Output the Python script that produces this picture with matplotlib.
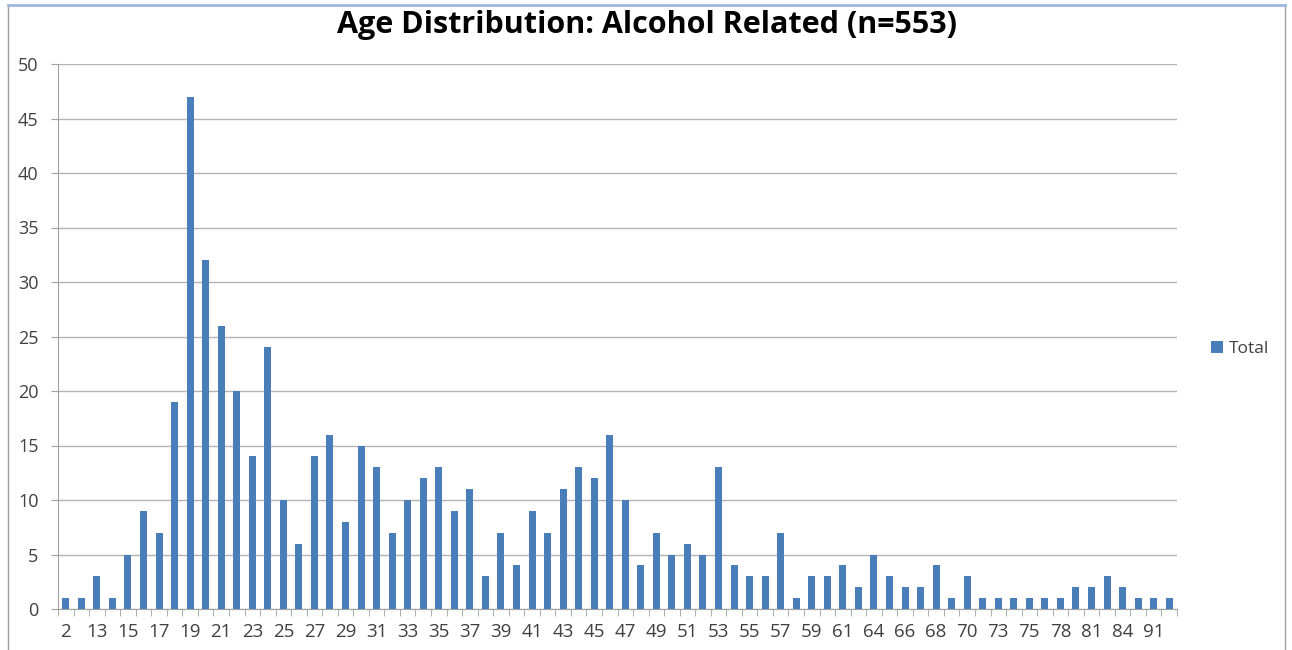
import matplotlib
matplotlib.use("Agg")
from matplotlib import pyplot as plt
from matplotlib.lines import Line2D

plt.rcParams["font.family"] = ["Open Sans", "DejaVu Sans"]

# ages (every second one is labelled on the axis)
ages = [
    "2", "12", "13", "14", "15", "16", "17", "18", "19", "20",
    "21", "22", "23", "24", "25", "26", "27", "28", "29", "30",
    "31", "32", "33", "34", "35", "36", "37", "38", "39", "40",
    "41", "42", "43", "44", "45", "46", "47", "48", "49", "50",
    "51", "52", "53", "54", "55", "56", "57", "58", "59", "60",
    "61", "62", "64", "65", "66", "67", "68", "69", "70", "71",
    "73", "74", "75", "76", "78", "79", "81", "82", "84", "86",
    "91", "92",
]
totals = [
    1, 1, 3, 1, 5, 9, 7, 19, 47, 32,
    26, 20, 14, 24, 10, 6, 14, 16, 8, 15,
    13, 7, 10, 12, 13, 9, 11, 3, 7, 4,
    9, 7, 11, 13, 12, 16, 10, 4, 7, 5,
    6, 5, 13, 4, 3, 3, 7, 1, 3, 3,
    4, 2, 5, 3, 2, 2, 4, 1, 3, 1,
    1, 1, 1, 1, 1, 2, 2, 3, 2, 1,
    1, 1,
]
title = "Age Distribution: Alcohol Related (n=553)"

bar_color = "#4a7ebb"
grid_color = "#b3b3b3"
text_color = "#404040"

fig = plt.figure(figsize=(12.92, 6.5), dpi=100)

# chart frame
fig.add_artist(Line2D([8 / 1292, 8 / 1292], [0, 1 - 5 / 650],
                      transform=fig.transFigure, color="#a0a0a0", lw=1))
fig.add_artist(Line2D([1285 / 1292, 1285 / 1292], [0, 1 - 5 / 650],
                      transform=fig.transFigure, color="#a0a0a0", lw=1))
fig.add_artist(Line2D([8 / 1292, 1285 / 1292], [1 - 5 / 650, 1 - 5 / 650],
                      transform=fig.transFigure, color="#9db9e0", lw=2))

ax = fig.add_axes([58 / 1292, 1 - 609 / 650, 1119 / 1292, 545 / 650])

x = list(range(len(ages)))
ax.bar(x, totals, width=0.45, color=bar_color, label="Total", zorder=3)

ax.set_xlim(-0.5, len(ages) - 0.5)
ax.set_ylim(0, 50)
ax.set_yticks(range(0, 51, 5))
ax.grid(axis="y", color=grid_color, lw=1, zorder=0)

# category labels on every second bar, tick marks between categories
ax.set_xticks(x[::2])
ax.set_xticklabels(ages[::2])
ax.set_xticks([i - 0.5 for i in range(len(ages) + 1)], minor=True)
ax.tick_params(axis="x", which="major", length=0, pad=10,
               labelsize=13.5, labelcolor=text_color)
ax.tick_params(axis="x", which="minor", length=5, color="#a0a0a0",
               direction="out")
ax.tick_params(axis="y", length=5, color="#a0a0a0", labelsize=13,
               labelcolor=text_color, pad=9)

for side in ["top", "right"]:
    ax.spines[side].set_visible(False)
ax.spines["left"].set_color("#a0a0a0")
ax.spines["bottom"].set_color("#a0a0a0")

fig.text(647 / 1292, 1 - 25 / 650, title, ha="center", va="center",
         fontsize=22, fontweight="bold", color="black")

fig.legend(loc="center left", bbox_to_anchor=(1195 / 1292, 1 - 349 / 650),
           frameon=False, fontsize=12.5, handlelength=0.7, handleheight=0.7,
           handletextpad=0.35, labelcolor=text_color)

fig.savefig("out.png", dpi=100)
